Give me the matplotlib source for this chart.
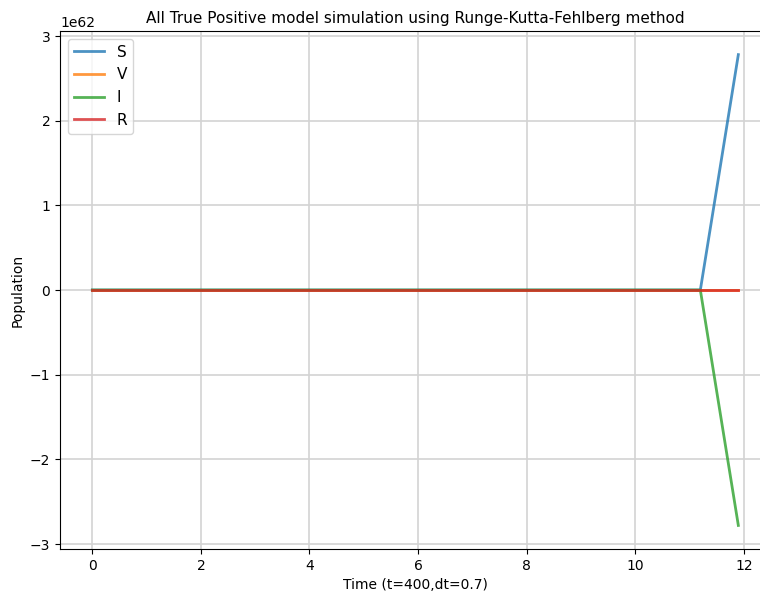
import numpy as np
import matplotlib
matplotlib.use("Agg")
import matplotlib.pyplot as plt

# time grid (dt = 0.7)
t = [0.0, 0.7, 1.4, 2.1, 2.8, 3.5, 4.2, 4.9, 5.6, 6.3, 7.0, 7.7, 8.4, 9.1, 9.8, 10.5, 11.2, 11.9]
S = [0, 0, 0, 0, 0, 0, 0, 0, 0, 0, 0, 0, 0, 0, 0, 0, 0, 2.78e62]
V = [0, 0, 0, 0, 0, 0, 0, 0, 0, 0, 0, 0, 0, 0, 0, 0, 0, 0]
I = [0, 0, 0, 0, 0, 0, 0, 0, 0, 0, 0, 0, 0, 0, 0, 0, 0, -2.78e62]
R = [0, 0, 0, 0, 0, 0, 0, 0, 0, 0, 0, 0, 0, 0, 0, 0, 0, 0]

fig = plt.figure(figsize=(7.6, 5.98), dpi=100)
ax = fig.add_axes([0.079, 0.082, 0.935, 0.866])

ax.plot(t, S, label="S", linewidth=2, alpha=0.8)
ax.plot(t, V, label="V", linewidth=2, alpha=0.8)
ax.plot(t, I, label="I", linewidth=2, alpha=0.8)
ax.plot(t, R, label="R", linewidth=2, alpha=0.8)

ax.set_title("All True Positive model simulation using Runge-Kutta-Fehlberg method", fontsize=11)
ax.set_xlabel("Time (t=400,dt=0.7)")
ax.set_ylabel("Population")
ax.grid(True, linewidth=1.2, color="#d3d3d3")
ax.legend(loc="upper left", fontsize=11)

fig.savefig("out.png", dpi=100)
